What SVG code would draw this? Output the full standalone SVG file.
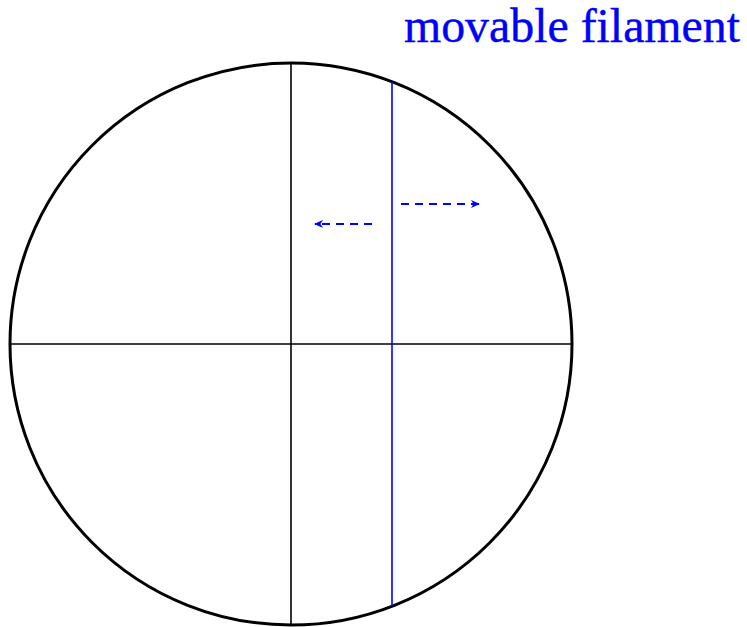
<svg xmlns="http://www.w3.org/2000/svg" width="747" height="627" viewBox="0 0 747 627">
<style>
.cross{stroke:#000;stroke-width:1.6;fill:none}
.dash{stroke:#0000ff;stroke-width:2;stroke-dasharray:8,6;fill:none}
</style>
<defs>
<marker id="ah" viewBox="0 0 10 10" refX="9" refY="5" markerWidth="12" markerHeight="9" markerUnits="userSpaceOnUse" orient="auto">
<path d="M0,0.5 L10,5 L0,9.5 L3,5 Z" fill="#0000ff"/>
</marker>
</defs>
<rect width="747" height="627" fill="#fff"/>
<g id="reticle">
<circle cx="291" cy="344" r="281" fill="none" stroke="#000" stroke-width="3"/>
</g>
<g id="connectors">
<line class="cross" x1="291" y1="63" x2="291" y2="625"/>
<line class="cross" x1="10" y1="344" x2="572" y2="344"/>
<line x1="392" y1="82" x2="392" y2="606" stroke="#0000ff" stroke-width="1.6"/>
<line class="dash" x1="372" y1="224" x2="315" y2="224" marker-end="url(#ah)"/>
<line class="dash" x1="401" y1="204" x2="479" y2="204" marker-end="url(#ah)"/>
</g>
<g id="label">
<text x="404" y="42" font-family="Liberation Serif, serif" font-size="48" fill="#0000ff" stroke="#0000ff" stroke-width="0.4" textLength="336" lengthAdjust="spacingAndGlyphs">movable filament</text>
</g>
</svg>
